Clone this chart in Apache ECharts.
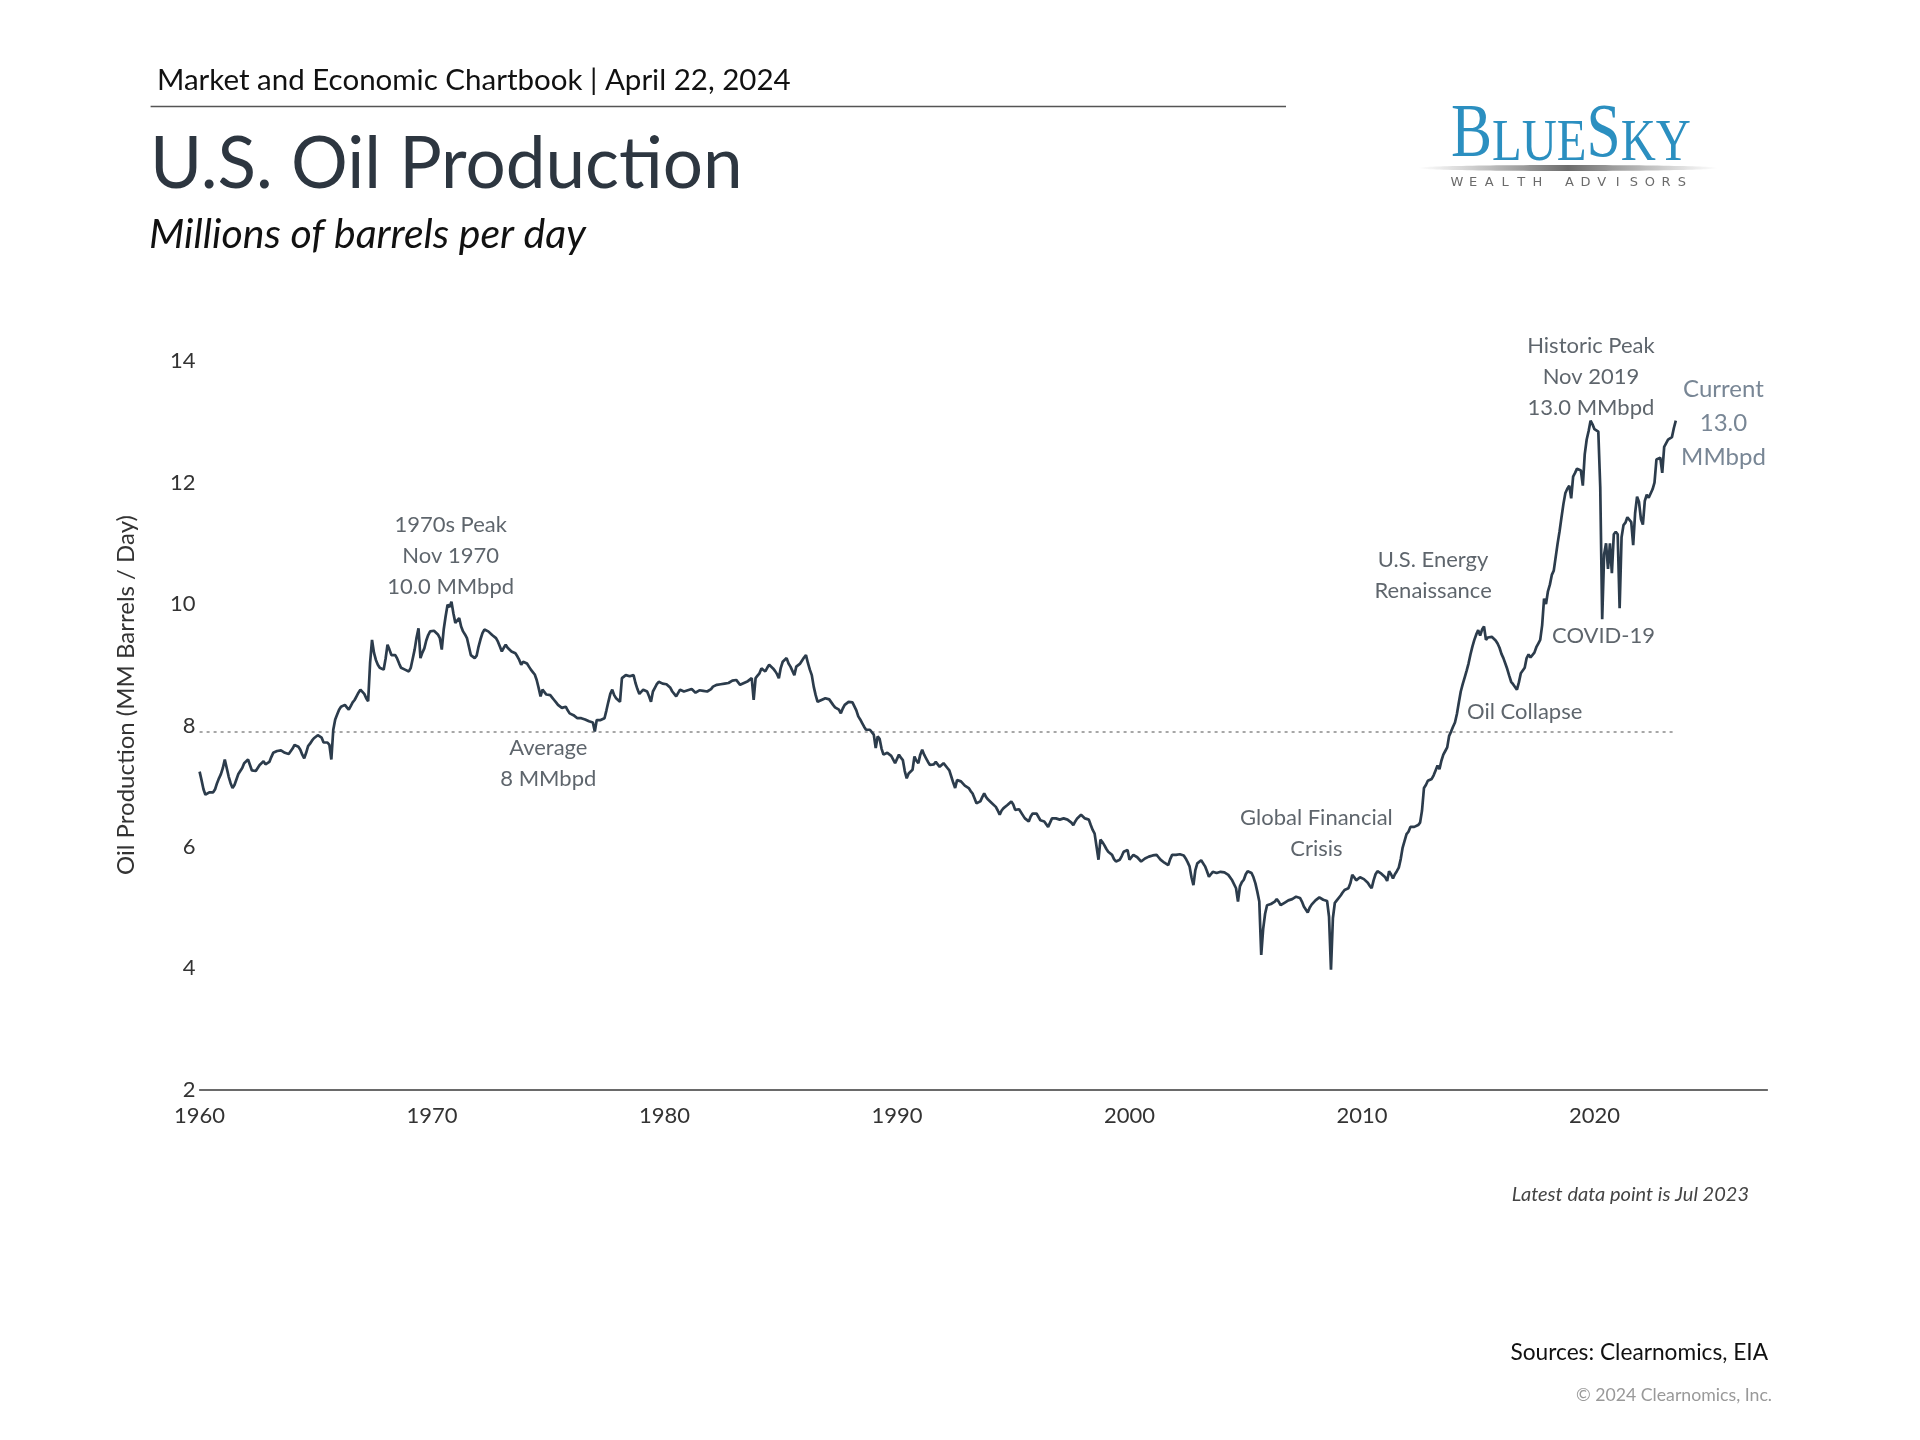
<!DOCTYPE html>
<html>
<head>
<meta charset="utf-8">
<script src="https://cdn.jsdelivr.net/npm/echarts@6/dist/echarts.min.js"></script>
<style>
html,body{margin:0;padding:0;background:#fff;}
#chart{width:1920px;height:1440px;}
</style>
</head>
<body>
<div id="chart"></div>
<script>
// ---- Data: U.S. crude oil production, millions of barrels per day, monthly from Jan 1960 ----
const startYear = 1960;
const prod1960s = [
  7.24,7.10,6.95,6.86,6.88,6.90,6.92,6.90,6.95,7.05,7.13,7.20,
  7.30,7.44,7.30,7.16,7.05,6.97,7.02,7.11,7.20,7.25,7.30,7.38,
  7.40,7.44,7.35,7.26,7.24,7.25,7.30,7.35,7.38,7.41,7.36,7.33,
  7.40,7.48,7.55,7.57,7.58,7.60,7.59,7.58,7.55,7.52,7.53,7.55,
  7.62,7.68,7.71,7.65,7.60,7.52,7.46,7.55,7.66,7.70,7.75,7.79,
  7.80,7.84,7.87,7.80,7.72,7.71,7.72,7.68,7.44,7.93,8.10,8.18,
  8.26,8.31,8.33,8.34,8.30,8.26,8.32,8.38,8.42,8.48,8.54,8.59,
  8.59,8.52,8.45,8.40,9.03,9.41,9.20,9.08,9.00,8.95,8.93,8.92,
  9.10,9.33,9.25,9.16,9.18,9.16,9.10,9.02,8.95,8.93,8.92,8.90,
  8.89,8.95,9.10,9.25,9.45,9.60,9.11,9.20,9.27,9.40,9.49,9.55
];
const prod1970s = [
  9.55,9.56,9.55,9.50,9.44,9.25,9.58,9.80,9.99,9.95,10.04,9.85,
  9.69,9.72,9.77,9.63,9.55,9.50,9.44,9.30,9.16,9.13,9.11,9.15,
  9.30,9.42,9.52,9.58,9.56,9.55,9.52,9.49,9.47,9.44,9.38,9.30,
  9.22,9.28,9.33,9.28,9.25,9.22,9.20,9.19,9.14,9.08,9.00,9.05,
  9.08,9.02,8.97,8.92,8.88,8.84,8.75,8.62,8.48,8.59,8.56,8.51,
  8.52,8.50,8.46,8.42,8.38,8.34,8.31,8.29,8.30,8.31,8.25,8.20,
  8.20,8.17,8.14,8.12,8.10,8.12,8.13,8.10,8.08,8.07,8.09,8.05,
  7.90,8.09,8.10,8.09,8.10,8.12,8.25,8.39,8.52,8.59,8.50,8.45,
  8.42,8.39,8.78,8.80,8.83,8.82,8.81,8.82,8.83,8.70,8.60,8.52,
  8.50,8.59,8.57,8.56,8.48,8.39,8.56,8.62,8.68,8.72,8.70,8.69
];
const prod1980s = [
  8.70,8.68,8.67,8.62,8.56,8.52,8.48,8.45,8.59,8.57,8.56,8.56,
  8.58,8.57,8.60,8.57,8.54,8.56,8.58,8.59,8.57,8.55,8.56,8.58,
  8.60,8.64,8.66,8.67,8.65,8.68,8.70,8.69,8.67,8.70,8.72,8.74,
  8.73,8.75,8.71,8.67,8.68,8.70,8.70,8.73,8.76,8.78,8.42,8.78,
  8.82,8.86,8.94,8.91,8.89,8.95,9.00,8.97,8.94,8.90,8.85,8.78,
  8.95,9.05,9.08,9.11,9.02,8.97,8.90,8.83,8.97,9.00,9.02,9.05,
  9.12,9.16,9.03,8.92,8.83,8.64,8.50,8.39,8.40,8.42,8.44,8.45,
  8.45,8.43,8.42,8.34,8.30,8.28,8.26,8.20,8.28,8.34,8.37,8.39,
  8.39,8.38,8.37,8.25,8.15,8.10,8.04,7.98,7.93,7.96,7.93,7.90,
  7.85,7.63,7.82,7.78,7.62,7.52,7.55,7.55,7.54,7.50,7.49,7.38
];
const prod1990s = [
  7.45,7.52,7.47,7.43,7.25,7.13,7.21,7.24,7.27,7.49,7.42,7.38,
  7.52,7.60,7.52,7.46,7.40,7.35,7.32,7.36,7.40,7.36,7.32,7.35,
  7.38,7.35,7.30,7.26,7.16,7.06,6.97,7.10,7.08,7.08,7.05,7.01,
  6.99,6.97,6.92,6.88,6.80,6.72,6.74,6.75,6.82,6.88,6.82,6.78,
  6.77,6.72,6.69,6.66,6.60,6.53,6.60,6.64,6.66,6.69,6.72,6.75,
  6.70,6.61,6.62,6.62,6.61,6.52,6.47,6.44,6.42,6.50,6.55,6.55,
  6.55,6.52,6.44,6.43,6.42,6.42,6.33,6.40,6.47,6.46,6.47,6.47,
  6.45,6.44,6.47,6.46,6.45,6.45,6.40,6.36,6.42,6.47,6.50,6.53,
  6.52,6.47,6.45,6.45,6.36,6.28,6.22,6.20,5.79,6.12,6.08,6.03,
  5.97,5.92,5.90,5.87,5.80,5.76,5.77,5.79,5.85,5.92,5.94,5.95
];
const prod2000s = [
  5.79,5.83,5.87,5.85,5.83,5.81,5.76,5.79,5.81,5.83,5.84,5.85,
  5.86,5.86,5.87,5.83,5.79,5.76,5.74,5.73,5.70,5.80,5.87,5.87,
  5.87,5.87,5.88,5.90,5.86,5.81,5.75,5.68,5.50,5.37,5.62,5.73,
  5.76,5.78,5.79,5.68,5.60,5.51,5.55,5.59,5.56,5.57,5.58,5.59,
  5.59,5.58,5.57,5.54,5.51,5.45,5.43,5.32,5.10,5.35,5.42,5.46,
  5.55,5.60,5.58,5.57,5.50,5.40,5.26,5.10,4.22,4.65,4.90,5.04,
  5.04,5.06,5.04,5.10,5.14,5.10,5.04,5.06,5.08,5.08,5.12,5.14,
  5.14,5.16,5.18,5.20,5.16,5.10,5.02,4.97,4.92,5.00,5.05,5.08,
  5.12,5.15,5.17,5.15,5.13,5.14,5.11,4.85,3.98,4.83,5.08,5.12,
  5.15,5.20,5.25,5.29,5.31,5.32,5.40,5.54,5.50,5.45,5.48,5.50
];
const prod2010s = [
  5.50,5.47,5.44,5.41,5.36,5.32,5.45,5.55,5.60,5.58,5.56,5.55,
  5.50,5.44,5.60,5.55,5.48,5.55,5.60,5.66,5.80,5.99,6.10,6.21,
  6.25,6.33,6.32,6.33,6.33,6.36,6.40,6.60,6.97,7.02,7.09,7.10,
  7.12,7.18,7.26,7.34,7.28,7.42,7.52,7.58,7.64,7.83,7.90,7.98,
  8.05,8.19,8.38,8.56,8.68,8.79,8.90,9.02,9.17,9.30,9.41,9.50,
  9.57,9.48,9.58,9.63,9.41,9.45,9.48,9.46,9.45,9.40,9.35,9.28,
  9.18,9.11,9.02,8.93,8.82,8.72,8.68,8.65,8.59,8.71,8.86,8.83,
  8.95,9.11,9.17,9.12,9.11,9.20,9.29,9.35,9.41,9.65,10.09,10.00,
  10.21,10.32,10.48,10.55,10.57,11.00,11.20,11.43,11.65,11.83,11.90,11.95,
  11.74,12.10,12.16,12.23,12.20,12.20,11.95,12.47,12.71,12.85,13.02,12.96
];
const prod2020s = [
  12.88,12.86,12.84,11.92,9.75,10.82,11.00,10.58,11.00,10.51,11.15,11.19,
  11.15,9.93,11.10,11.30,11.34,11.43,11.40,11.35,10.97,11.50,11.77,11.68,
  11.40,11.31,11.70,11.80,11.75,11.77,11.89,12.00,12.38,12.40,12.41,12.16,
  12.59,12.62,12.71,12.68,12.75,12.90,13.02
];
const averageLevel = 7.9;
const yearTicks = [1960, 1970, 1980, 1990, 2000, 2010, 2020];
const valueTicks = [2, 4, 6, 8, 10, 12, 14];

// ---- Build ----
const allValues = [].concat(prod1960s, prod1970s, prod1980s, prod1990s, prod2000s, prod2010s, prod2020s);
const seriesData = allValues.map((v, i) => [startYear + i / 12, v]);
const lastX = seriesData[seriesData.length - 1][0];

const FONT = 'Lato';
const annoColor = '#363e47';
const annotations = [
  { x: 1970.8, y: 10.79, text: '1970s Peak\nNov 1970\n10.0 MMbpd' },
  { x: 1975.0, y: 7.38, text: 'Average\n8 MMbpd' },
  { x: 2008.04, y: 6.23, text: 'Global Financial\nCrisis' },
  { x: 2013.06, y: 10.47, text: 'U.S. Energy\nRenaissance' },
  { x: 2017.0, y: 8.23, text: 'Oil Collapse' },
  { x: 2020.39, y: 9.48, text: 'COVID-19' },
  { x: 2019.85, y: 13.74, text: 'Historic Peak\nNov 2019\n13.0 MMbpd' },
  { x: 2025.55, y: 12.97, text: 'Current\n13.0\nMMbpd', big: true }
];

const chart = echarts.init(document.getElementById('chart'), null, { renderer: 'canvas' });

const logoLetters = 'WEALTH ADVISORS'.split('');
const logoGraphics = logoLetters.map((ch, i) => ({
  type: 'text',
  x: 1457 + i * 16.07,
  y: 183,
  style: { text: ch, fill: '#6b6b6b', font: '13px "DejaVu Sans"', textAlign: 'center', textVerticalAlign: 'middle' }
}));

const option = {
  animation: false,
  backgroundColor: '#ffffff',
  grid: { left: 199.6, right: 152.6, top: 361.2, bottom: 350.2, containLabel: false },
  xAxis: {
    type: 'value',
    min: 1960,
    max: 2027.44,
    interval: 10,
    axisLine: { show: true, lineStyle: { color: '#3a3a3a', width: 1.5 } },
    axisTick: { show: false },
    splitLine: { show: false },
    axisLabel: {
      color: '#333', fontFamily: FONT, fontSize: 22, margin: 15,
      showMaxLabel: false,
      formatter: v => (yearTicks.indexOf(Math.round(v)) >= 0 && Math.abs(v - Math.round(v)) < 1e-6) ? String(Math.round(v)) : ''
    }
  },
  yAxis: {
    type: 'value',
    min: 2,
    max: 14,
    interval: 2,
    axisLine: { show: false },
    axisTick: { show: false },
    splitLine: { show: false },
    axisLabel: {
      color: '#333', fontFamily: FONT, fontSize: 22, margin: 4,
      formatter: v => valueTicks.indexOf(v) >= 0 ? String(v) : ''
    }
  },
  series: [
    {
      name: 'Oil Production',
      type: 'line',
      data: seriesData,
      showSymbol: false,
      symbol: 'none',
      lineStyle: { color: '#2c3c4c', width: 2.7 },
      z: 5,
      markLine: {
        silent: true,
        symbol: 'none',
        label: { show: false },
        lineStyle: { color: '#8a8a8a', width: 1.6, type: [3, 4] },
        data: [[{ coord: [startYear, averageLevel] }, { coord: [lastX, averageLevel] }]]
      }
    },
    {
      name: 'annotations',
      type: 'scatter',
      silent: true,
      symbolSize: 0,
      z: 10,
      data: annotations.map(a => ({
        value: [a.x, a.y],
        label: {
          show: true,
          position: 'inside',
          formatter: a.text,
          color: a.big ? '#56687a' : annoColor,
          fontFamily: FONT,
          fontSize: a.big ? 24 : 22,
          lineHeight: a.big ? 34 : 31,
          align: 'center',
          verticalAlign: 'middle'
        }
      }))
    }
  ],
  graphic: [
    { type: 'text', x: 157, y: 80, style: { text: 'Market and Economic Chartbook | April 22, 2024', fill: '#111', font: '29.5px ' + FONT, textAlign: 'left', textVerticalAlign: 'middle' } },
    { type: 'line', shape: { x1: 150.6, y1: 106.5, x2: 1286, y2: 106.5 }, style: { stroke: '#555', lineWidth: 1.5 } },
    { type: 'text', x: 150, y: 165, style: { text: 'U.S. Oil Production', fill: '#2d3640', font: '71px ' + FONT, textAlign: 'left', textVerticalAlign: 'middle' } },
    { type: 'text', x: 149, y: 235, style: { text: 'Millions of barrels per day', fill: '#111', font: 'italic 41px ' + FONT, textAlign: 'left', textVerticalAlign: 'middle' } },
    // logo
    { type: 'text', x: 1451, y: 174, scaleX: 0.81, style: {
        text: '{b|B}{s|LUE}{b|S}{s|KY}', textAlign: 'left', textVerticalAlign: 'bottom',
        rich: {
          b: { fontSize: 76, fontFamily: 'Liberation Serif', fill: '#2b8fc0', verticalAlign: 'bottom' },
          s: { fontSize: 60, fontFamily: 'Liberation Serif', fill: '#2b8fc0', verticalAlign: 'bottom' }
        }
      } },
    { type: 'ellipse', shape: { cx: 1568, cy: 168, rx: 150, ry: 3 }, style: {
        fill: new echarts.graphic.LinearGradient(0, 0, 1, 0, [
          { offset: 0, color: 'rgba(120,120,120,0)' },
          { offset: 0.5, color: 'rgba(100,100,100,0.95)' },
          { offset: 1, color: 'rgba(120,120,120,0)' }
        ]) } },
    ...logoGraphics,
    // y axis name
    { type: 'text', x: 126, y: 695, rotation: Math.PI / 2, style: { text: 'Oil Production (MM Barrels / Day)', fill: '#333', font: '24px ' + FONT, textAlign: 'center', textVerticalAlign: 'middle' } },
    // footer
    { type: 'text', x: 1749, y: 1195, style: { text: 'Latest data point is Jul 2023', fill: '#444', font: 'italic 20px ' + FONT, textAlign: 'right', textVerticalAlign: 'middle' } },
    { type: 'text', x: 1768, y: 1353, style: { text: 'Sources: Clearnomics, EIA', fill: '#111', font: '22.7px ' + FONT, textAlign: 'right', textVerticalAlign: 'middle' } },
    { type: 'text', x: 1772, y: 1395, style: { text: '\u00A9 2024 Clearnomics, Inc.', fill: '#999', font: '17.7px ' + FONT, textAlign: 'right', textVerticalAlign: 'middle' } }
  ]
};
chart.setOption(option);
</script>
</body>
</html>
